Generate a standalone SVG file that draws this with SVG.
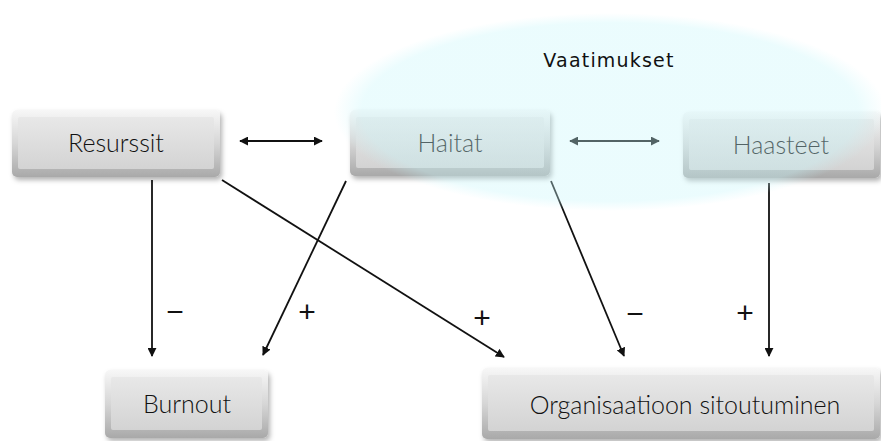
<svg xmlns="http://www.w3.org/2000/svg" width="881" height="441" viewBox="0 0 881 441">
<style>
.lbl{font-family:Lato,"Open Sans","Liberation Sans",sans-serif;font-weight:300;font-size:25px;fill:#111;text-anchor:middle}
.sign{font-family:"Liberation Sans",Arial,sans-serif;font-size:30px;fill:#111;text-anchor:middle}
.conn{stroke:#111;stroke-width:1.8;fill:none}
.outer{fill:url(#outerG);filter:url(#sh)}
.face{fill:url(#faceG)}
</style>
<defs>
<linearGradient id="outerG" x1="0" y1="0" x2="0" y2="1">
<stop offset="0" stop-color="#f7f7f7"/>
<stop offset="0.5" stop-color="#d6d6d6"/>
<stop offset="1" stop-color="#a9a9a9"/>
</linearGradient>
<linearGradient id="faceG" x1="0" y1="0" x2="0" y2="1">
<stop offset="0" stop-color="#e8e8e8"/>
<stop offset="1" stop-color="#d3d3d3"/>
</linearGradient>
<radialGradient id="ellG" cx="0.5" cy="0.5" r="0.5">
<stop offset="0" stop-color="rgb(200,247,251)" stop-opacity="0.36"/>
<stop offset="0.9" stop-color="rgb(200,247,251)" stop-opacity="0.36"/>
<stop offset="1" stop-color="rgb(200,247,251)" stop-opacity="0"/>
</radialGradient>
<filter id="sh" x="-10%" y="-20%" width="125%" height="150%">
<feDropShadow dx="2" dy="3" stdDeviation="2.5" flood-color="#000" flood-opacity="0.3"/>
</filter>
<marker id="ah" viewBox="0 0 10 10" refX="9" refY="5" markerWidth="9" markerHeight="9" markerUnits="userSpaceOnUse" orient="auto-start-reverse">
<path d="M0,0 L10,5 L0,10 z" fill="#111"/>
</marker>
</defs>
<rect width="881" height="441" fill="#fff"/>

<g id="resurssit">
<rect class="outer" x="12" y="110" width="208" height="67" rx="5"/>
<rect class="face" x="18" y="117" width="196" height="52" rx="2"/>
<text class="lbl" x="116" y="152">Resurssit</text>
</g>
<g id="haitat">
<rect class="outer" x="350" y="110" width="200" height="66" rx="5"/>
<rect class="face" x="356" y="117" width="188" height="51" rx="2"/>
<text class="lbl" x="450" y="152">Haitat</text>
</g>
<g id="haasteet">
<rect class="outer" x="683" y="112" width="197" height="66" rx="5"/>
<rect class="face" x="689" y="119" width="185" height="51" rx="2"/>
<text class="lbl" x="781" y="154">Haasteet</text>
</g>
<g id="burnout">
<rect class="outer" x="105" y="370" width="163" height="68" rx="5"/>
<rect class="face" x="111" y="377" width="151" height="53" rx="2"/>
<text class="lbl" x="187" y="413">Burnout</text>
</g>
<g id="organisaatioon">
<rect class="outer" x="482" y="368" width="398" height="71" rx="5"/>
<rect class="face" x="488" y="375" width="386" height="56" rx="2"/>
<text class="lbl" x="685" y="414">Organisaatioon sitoutuminen</text>
</g>

<g id="connectors">
<line class="conn" x1="152" y1="180" x2="152" y2="356" marker-end="url(#ah)"/>
<line class="conn" x1="346" y1="181" x2="263" y2="355" marker-end="url(#ah)"/>
<line class="conn" x1="222" y1="180" x2="504" y2="357" marker-end="url(#ah)"/>
<line class="conn" x1="551" y1="181" x2="624" y2="356" marker-end="url(#ah)"/>
<line class="conn" x1="769" y1="183" x2="769" y2="356" marker-end="url(#ah)"/>
<line class="conn" x1="240" y1="141" x2="322" y2="141" marker-start="url(#ah)" marker-end="url(#ah)"/>
<line class="conn" x1="570" y1="141" x2="659" y2="141" marker-start="url(#ah)" marker-end="url(#ah)"/>
<text class="sign" x="175" y="322">−</text>
<text class="sign" x="307" y="322">+</text>
<text class="sign" x="482" y="328">+</text>
<text class="sign" x="635" y="324">−</text>
<text class="sign" x="745" y="323">+</text>
</g>

<g id="vaatimukset">
<ellipse cx="610" cy="112" rx="276" ry="99" fill="url(#ellG)"/>
<text x="609" y="67" style="font-family:'DejaVu Sans',Verdana,sans-serif;font-size:19px;letter-spacing:1.2px;fill:#111;text-anchor:middle">Vaatimukset</text>
</g>
</svg>
